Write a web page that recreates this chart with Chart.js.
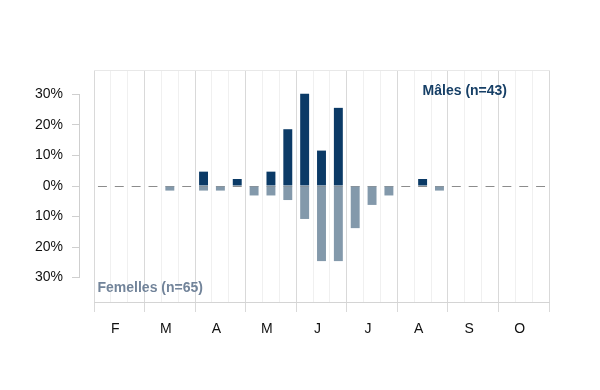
<!DOCTYPE html>
<html>
<head>
<meta charset="utf-8">
<style>
  html, body { margin: 0; padding: 0; background: #ffffff; }
  #wrap { width: 600px; height: 390px; }
</style>
<script src="https://cdn.jsdelivr.net/npm/chart.js@4.4.1/dist/chart.umd.min.js"></script>
</head>
<body>
<div id="wrap"><canvas id="c" width="600" height="390"></canvas></div>
<script>
// Months (each split into 3 decades)
const months = ['F', 'M', 'A', 'M', 'J', 'J', 'A', 'S', 'O'];
const decades = ['1', '2', '3'];
// Percent of males per decade (n=43)
const males = [0, 0, 0,   0, 0, 0,   4.7, 0, 2.3,   0, 4.7, 18.6,   30.2, 11.6, 25.6,   0, 0, 0,   0, 2.3, 0,   0, 0, 0,   0, 0, 0];
// Percent of females per decade (n=65), drawn below zero
const females = [0, 0, 0,   0, 1.5, 0,   1.5, 1.5, 0,   3.1, 3.1, 4.6,   10.8, 24.6, 24.6,   13.8, 6.2, 3.1,   0, 0, 1.5,   0, 0, 0,   0, 0, 0];
const yTickValues = [-30, -20, -10, 0, 10, 20, 30];
const maleLabel = 'Mâles (n=43)';
const femaleLabel = 'Femelles (n=65)';

const categories = [];
months.forEach((m, mi) => decades.forEach(d => categories.push(m + d + '_' + mi)));

const FONT = "'Liberation Sans', Arial, sans-serif";
const MALE_COLOR = '#0b3a66';
const FEMALE_COLOR = '#8399ab';
const BAR_PCT = 0.53;

const isMajor = (ctx) => ctx.index === undefined || ctx.index % 3 === 0;

const decorPlugin = {
  id: 'decor',
  beforeDatasetsDraw(chart) {
    const { ctx, chartArea } = chart;
    const x = chart.scales.x, y = chart.scales.y;
    ctx.save();
    // annotations
    ctx.font = 'bold 14px ' + FONT;
    ctx.textBaseline = 'alphabetic';
    ctx.textAlign = 'right';
    ctx.fillStyle = '#163f66';
    ctx.fillText(maleLabel, chartArea.right - 42, y.getPixelForValue(30) + 0.5);
    ctx.textAlign = 'left';
    ctx.fillStyle = '#72849a';
    ctx.fillText(femaleLabel, chartArea.left + 3.5, y.getPixelForValue(-34.8));
    // dashed zero line, one dash per decade
    const bw = (x.width / categories.length) * BAR_PCT;
    const y0 = Math.round(y.getPixelForValue(0)) + 0.5;
    ctx.strokeStyle = '#8c8c8c';
    ctx.lineWidth = 1;
    ctx.beginPath();
    categories.forEach((c, i) => {
      const cx = x.getPixelForValue(i);
      ctx.moveTo(cx - bw / 2, y0);
      ctx.lineTo(cx + bw / 2, y0);
    });
    ctx.stroke();
    // y axis line across tick range
    const xl = Math.round(y.right) - 0.5;
    ctx.strokeStyle = '#cfcfcf';
    ctx.beginPath();
    ctx.moveTo(xl, y.getPixelForValue(yTickValues[yTickValues.length - 1]));
    ctx.lineTo(xl, y.getPixelForValue(yTickValues[0]));
    ctx.stroke();
    ctx.restore();
  }
};

new Chart(document.getElementById('c'), {
  type: 'bar',
  data: {
    labels: categories,
    datasets: [
      { label: 'Mâles', data: males, backgroundColor: MALE_COLOR, borderWidth: 0,
        barPercentage: BAR_PCT, categoryPercentage: 1 },
      { label: 'Femelles', data: females.map(v => -v), backgroundColor: FEMALE_COLOR, borderWidth: 0,
        barPercentage: BAR_PCT, categoryPercentage: 1 }
    ]
  },
  options: {
    responsive: false,
    animation: false,
    devicePixelRatio: 1,
    layout: { padding: { left: 20, right: 51, top: 70, bottom: 38 } },
    plugins: { legend: { display: false }, tooltip: { enabled: false } },
    scales: {
      x: {
        stacked: true,
        position: 'bottom',
        offset: true,
        grid: {
          offset: true,
          drawOnChartArea: true,
          drawTicks: true,
          tickLength: 10,
          color: (ctx) => isMajor(ctx) ? '#d9d9d9' : '#f0f0f0',
          tickColor: (ctx) => isMajor(ctx) ? '#d9d9d9' : 'rgba(0,0,0,0)'
        },
        border: { display: true, color: '#d4d4d4' },
        ticks: {
          autoSkip: false,
          maxRotation: 0,
          padding: 9,
          labelOffset: -4,
          color: '#111111',
          font: { family: FONT, size: 14 },
          callback: (v, i) => (i % 3 === 1 ? months[Math.floor(i / 3)] : '')
        },
        afterFit: (s) => { s.height = 50; }
      },
      xTop: {
        type: 'category',
        labels: categories,
        position: 'top',
        grid: { display: true, drawOnChartArea: false, drawTicks: false },
        border: { display: true, color: '#e8e8e8' },
        ticks: { display: false },
        afterFit: (s) => { s.height = 0; }
      },
      y: {
        stacked: true,
        position: 'left',
        weight: 1,
        min: -38,
        max: 38,
        afterBuildTicks: (s) => { s.ticks = yTickValues.map(v => ({ value: v })); },
        grid: {
          drawOnChartArea: false,
          drawTicks: true,
          tickLength: 8,
          color: '#cfcfcf',
          tickColor: '#cfcfcf'
        },
        border: { display: false },
        ticks: {
          padding: 9,
          color: '#111111',
          font: { family: FONT, size: 14 },
          callback: (v) => Math.abs(v) + '%'
        },
        afterFit: (s) => { s.width = 60; }
      },
      yPad: {
        type: 'linear',
        position: 'left',
        weight: 0,
        grid: { display: false },
        border: { display: false },
        ticks: { display: false },
        afterFit: (s) => { s.width = 14; }
      }
    }
  },
  plugins: [decorPlugin]
});
</script>
</body>
</html>
